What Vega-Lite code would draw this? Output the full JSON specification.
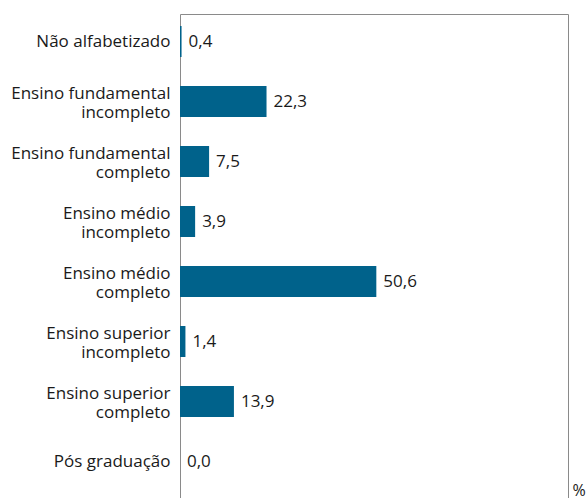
{
  "$schema": "https://vega.github.io/schema/vega-lite/v6.json",
  "autosize": "none",
  "width": 388,
  "height": 484,
  "padding": {"left": 180, "top": 14, "right": 18, "bottom": 0},
  "config": {
    "locale": {"number": {"decimal": ",", "thousands": ".", "grouping": [3], "currency": ["R$", ""]}},
    "view": {"stroke": "#8a8a8a", "strokeWidth": 1},
    "font": "Open Sans"
  },
  "data": {
    "values": [
      {"cat": "Não alfabetizado", "value": 0.4},
      {"cat": "Ensino fundamental|incompleto", "value": 22.3},
      {"cat": "Ensino fundamental|completo", "value": 7.5},
      {"cat": "Ensino médio|incompleto", "value": 3.9},
      {"cat": "Ensino médio|completo", "value": 50.6},
      {"cat": "Ensino superior|incompleto", "value": 1.4},
      {"cat": "Ensino superior|completo", "value": 13.9},
      {"cat": "Pós graduação", "value": 0.0}
    ]
  },
  "encoding": {
    "y": {
      "field": "cat", "type": "nominal", "sort": null,
      "scale": {"paddingInner": 0.483, "paddingOuter": 0.275, "align": 0.364},
      "axis": {
        "title": null, "ticks": false, "domain": false,
        "labelExpr": "split(datum.label, '|')",
        "labelFontSize": 17, "labelColor": "#1a1a1a", "labelFont": "Open Sans",
        "labelLineHeight": 19, "labelPadding": 10, "labelLimit": 300,
        "labelOffset": {"condition": {"test": "indexof(datum.value, '|') >= 0", "value": -8}, "value": 0}
      }
    },
    "x": {
      "field": "value", "type": "quantitative",
      "scale": {"domain": [0, 100]},
      "axis": {
        "title": "%", "labels": false, "ticks": false, "grid": false, "domain": false,
        "titleFontSize": 16, "titleFontWeight": "normal", "titleColor": "#1a1a1a",
        "titleX": 392, "titleY": 0, "titleAlign": "left", "titleBaseline": "bottom"
      }
    }
  },
  "layer": [
    {"mark": {"type": "bar", "color": "#00628B"}},
    {
      "mark": {"type": "text", "align": "left", "baseline": "middle", "dx": 7, "fontSize": 17, "color": "#1a1a1a", "font": "Open Sans"},
      "encoding": {"text": {"field": "value", "type": "quantitative", "format": ".1f"}}
    }
  ]
}
